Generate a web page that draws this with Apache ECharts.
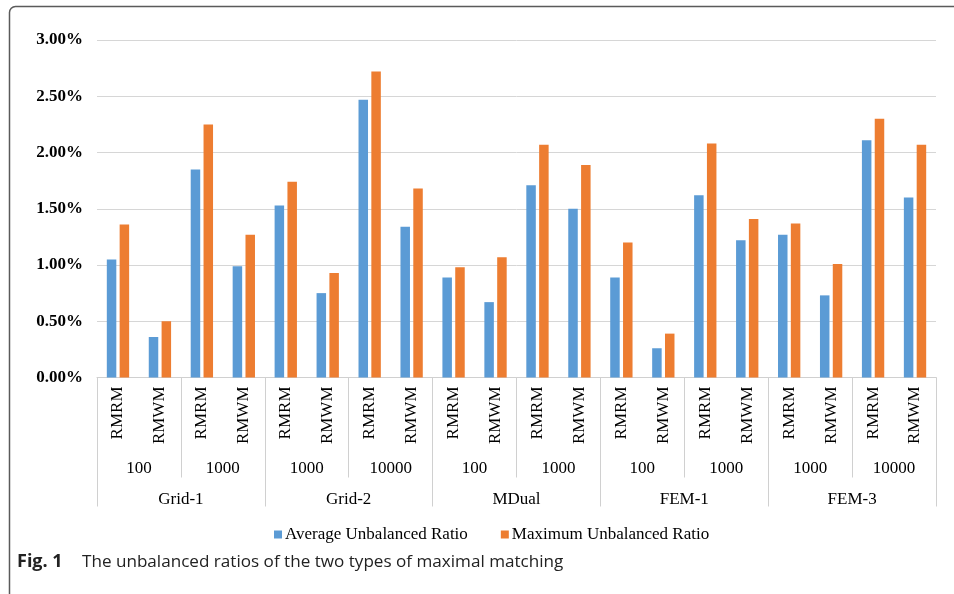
<!DOCTYPE html>
<html>
<head>
<meta charset="utf-8">
<script src="https://cdn.jsdelivr.net/npm/echarts@6/dist/echarts.min.js"></script>
<style>
html,body{margin:0;padding:0;background:#fff;}
#chart{width:954px;height:594px;}
</style>
</head>
<body>
<div id="chart"></div>
<script>
const groups = ['Grid-1', 'Grid-2', 'MDual', 'FEM-1', 'FEM-3'];
const sizes = ['100', '1000', '1000', '10000', '100', '1000', '100', '1000', '1000', '10000'];
const methods = ['RMRM', 'RMWM', 'RMRM', 'RMWM', 'RMRM', 'RMWM', 'RMRM', 'RMWM', 'RMRM', 'RMWM',
                 'RMRM', 'RMWM', 'RMRM', 'RMWM', 'RMRM', 'RMWM', 'RMRM', 'RMWM', 'RMRM', 'RMWM'];
const avgRatio = [1.05, 0.36, 1.85, 0.99, 1.53, 0.75, 2.47, 1.34, 0.89, 0.67,
                  1.71, 1.50, 0.89, 0.26, 1.62, 1.22, 1.27, 0.73, 2.11, 1.60];
const maxRatio = [1.36, 0.50, 2.25, 1.27, 1.74, 0.93, 2.72, 1.68, 0.98, 1.07,
                  2.07, 1.89, 1.20, 0.39, 2.08, 1.41, 1.37, 1.01, 2.30, 2.07];
const yTicks = { min: 0, max: 3, interval: 0.5 };
const seriesNames = ['Average Unbalanced Ratio', 'Maximum Unbalanced Ratio'];
const captionBold = 'Fig. 1';
const captionText = 'The unbalanced ratios of the two types of maximal matching';

const serif = '"Liberation Serif", "Times New Roman", serif';
const sans = '"Open Sans", "Liberation Sans", sans-serif';
const sepColor = '#d0d0d0';

const chart = echarts.init(document.getElementById('chart'), null, { renderer: 'canvas' });
chart.setOption({
  animation: false,
  backgroundColor: '#fff',
  grid: { left: 97, right: 18, top: 40, bottom: 216.5, containLabel: false },
  legend: {
    left: 274, top: 526, padding: 0,
    itemWidth: 8, itemHeight: 8, itemGap: 33,
    icon: 'rect',
    textStyle: { fontFamily: serif, fontSize: 17, color: '#000', padding: [0, 0, 0, -2] },
    data: seriesNames
  },
  yAxis: {
    type: 'value',
    min: yTicks.min, max: yTicks.max, interval: yTicks.interval,
    axisLine: { show: false }, axisTick: { show: false },
    splitLine: { lineStyle: { color: '#d6d6d6', width: 1 } },
    axisLabel: {
      margin: 14, color: '#000', fontFamily: serif, fontSize: 17, fontWeight: 'bold',
      formatter: v => v.toFixed(2) + '%'
    }
  },
  xAxis: [
    {
      type: 'category', position: 'bottom', data: methods,
      axisLine: { show: true, lineStyle: { color: sepColor, width: 1 } },
      axisTick: { show: false },
      axisLabel: { interval: 0, rotate: 90, margin: 9, color: '#000', fontFamily: serif, fontSize: 17 }
    },
    {
      type: 'category', position: 'bottom', data: sizes,
      axisLine: { show: false },
      axisTick: { show: true, interval: 0, length: 100, lineStyle: { color: sepColor, width: 1 } },
      axisLabel: { interval: 0, margin: 83, color: '#000', fontFamily: serif, fontSize: 17 }
    },
    {
      type: 'category', position: 'bottom', data: groups,
      axisLine: { show: false },
      axisTick: { show: true, interval: 0, length: 129, lineStyle: { color: sepColor, width: 1 } },
      axisLabel: { interval: 0, margin: 114, color: '#000', fontFamily: serif, fontSize: 17 }
    }
  ],
  series: [
    {
      name: seriesNames[0], type: 'bar', xAxisIndex: 0, data: avgRatio,
      barWidth: 9.5, barGap: '35%', itemStyle: { color: '#5B9BD5' }
    },
    {
      name: seriesNames[1], type: 'bar', xAxisIndex: 0, data: maxRatio,
      barWidth: 9.5, barGap: '35%', itemStyle: { color: '#ED7D31' }
    }
  ],
  graphic: [
    {
      type: 'rect', silent: true, z: -1,
      shape: { x: 9.5, y: 6.5, width: 1000, height: 1000, r: 6 },
      style: { fill: null, stroke: '#5a5a5a', lineWidth: 1.5 }
    },
    {
      type: 'text', left: 17, top: 553,
      style: {
        text: '{b|' + captionBold + '}{r|' + captionText + '}',
        rich: {
          b: { fontFamily: sans, fontSize: 18, fontWeight: 'bold', fill: '#222', width: 65 },
          r: { fontFamily: sans, fontSize: 17.1, fill: '#222' }
        }
      }
    }
  ]
});
</script>
</body>
</html>
